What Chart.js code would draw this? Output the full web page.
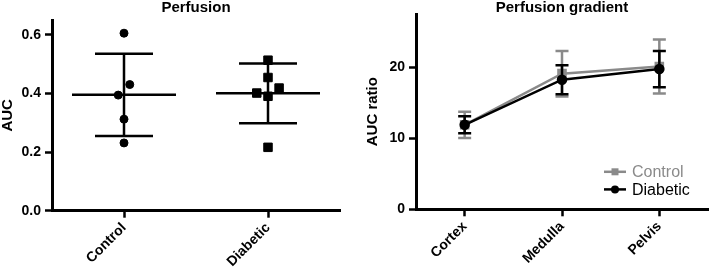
<!DOCTYPE html>
<html>
<head>
<meta charset="utf-8">
<script src="https://cdn.jsdelivr.net/npm/chart.js@4.4.1/dist/chart.umd.min.js"></script>
<style>
	body { margin: 0; background: #fff; }
	#wrap { position: relative; width: 709px; height: 269px; }
	canvas { position: absolute; top: 0; }
	#left { left: 0; }
	#right { left: 345px; }
</style>
</head>
<body>
<div id="wrap">
	<canvas id="left" width="345" height="269"></canvas>
	<canvas id="right" width="364" height="269"></canvas>
</div>
<script>
// Perfusion (AUC) - individual animals
const groups = ['Control', 'Diabetic'];
const groupPos = [1, 2];
const controlAUC = [0.605, 0.430, 0.394, 0.312, 0.231];
const controlJitter = [0, 0.04, -0.04, 0, 0];
const diabeticAUC = [0.513, 0.454, 0.418, 0.401, 0.390, 0.216];
const diabeticJitter = [0, 0, 0.077, -0.078, 0, 0];
const groupMean = [0.395, 0.400];
const groupSD = [0.140, 0.102];
const aucTicks = [0, 0.2, 0.4, 0.6];

// Perfusion gradient (AUC ratio)
const regions = ['Cortex', 'Medulla', 'Pelvis'];
const controlRatio = [11.9, 19.1, 20.1];
const controlErr = [1.85, 3.2, 3.8];
const diabeticRatio = [11.9, 18.25, 19.75];
const diabeticErr = [1.2, 2.05, 2.55];
const ratioTicks = [0, 10, 20];

const GREY = '#8a8a8a';
const FONT = '"Liberation Sans", Arial, sans-serif';
Chart.defaults.font.family = FONT;
Chart.defaults.color = '#000';

const axisBase = {
	grid: { drawOnChartArea: false, drawTicks: true, tickLength: 7, tickWidth: 2.5, tickColor: '#000' },
	border: { display: true, width: 3, color: '#000' },
};

// pin the x axis height and drop the label overhang padding
const fixX = (h) => (scale) => {
	scale.height = h;
	scale.paddingLeft = 0;
	scale.paddingRight = 0;
};

// mean line + SD whiskers for the scatter panel
const meanSdPlugin = {
	id: 'meanSd',
	beforeDatasetsDraw(chart) {
		const { ctx, scales } = chart;
		ctx.save();
		ctx.strokeStyle = '#000';
		ctx.lineWidth = 2.5;
		groupPos.forEach((g, i) => {
			const x = scales.x.getPixelForValue(g);
			const ym = scales.y.getPixelForValue(groupMean[i]);
			const yt = scales.y.getPixelForValue(groupMean[i] + groupSD[i]);
			const yb = scales.y.getPixelForValue(groupMean[i] - groupSD[i]);
			ctx.beginPath();
			ctx.moveTo(x - 52, ym); ctx.lineTo(x + 52, ym);
			ctx.moveTo(x - 29, yt); ctx.lineTo(x + 29, yt);
			ctx.moveTo(x - 29, yb); ctx.lineTo(x + 29, yb);
			ctx.moveTo(x, yt); ctx.lineTo(x, yb);
			ctx.stroke();
		});
		ctx.restore();
	},
};

new Chart(document.getElementById('left'), {
	type: 'scatter',
	data: {
		datasets: [
			{
				label: 'Control',
				data: controlAUC.map((v, i) => ({ x: groupPos[0] + controlJitter[i], y: v })),
				pointStyle: 'circle',
				pointRadius: 4,
				backgroundColor: '#000',
				borderColor: '#000',
			},
			{
				label: 'Diabetic',
				data: diabeticAUC.map((v, i) => ({ x: groupPos[1] + diabeticJitter[i], y: v })),
				pointStyle: 'rect',
				pointRadius: 6,
				backgroundColor: '#000',
				borderColor: '#000',
			},
		],
	},
	options: {
		responsive: false,
		animation: false,
		layout: { autoPadding: false, padding: { left: 0, right: 5, top: 0, bottom: 0 } },
		plugins: {
			legend: { display: false },
			tooltip: { enabled: false },
			title: {
				display: true,
				fullSize: false,
				text: 'Perfusion',
				font: { size: 15, weight: 'bold', lineHeight: 1 },
				padding: { top: 0, bottom: 5 },
			},
		},
		scales: {
			x: {
				...axisBase,
				type: 'linear',
				min: 0.5,
				max: 2.5,
				afterBuildTicks: (scale) => { scale.ticks = groupPos.map((v) => ({ value: v })); },
				afterFit: fixX(58.3),
				ticks: {
					autoSkip: false,
					minRotation: 45,
					maxRotation: 45,
					padding: 2,
					font: { size: 14, weight: 'bold' },
					callback: (v) => groups[groupPos.indexOf(v)],
				},
			},
			y: {
				...axisBase,
				min: 0,
				max: 0.65,
				afterBuildTicks: (scale) => { scale.ticks = aucTicks.map((v) => ({ value: v })); },
				afterFit: (scale) => { scale.width = 52; },
				ticks: {
					padding: 4,
					font: { size: 14, weight: 'bold' },
					callback: (v) => v.toFixed(1),
				},
				title: {
					display: true,
					text: 'AUC',
					font: { size: 15, weight: 'bold', lineHeight: 1 },
					padding: { top: 0, bottom: 0 },
				},
			},
		},
	},
	plugins: [meanSdPlugin],
});

// SEM bars drawn right after each dataset so layering follows the datasets
const errorBarPlugin = {
	id: 'errorBars',
	afterDatasetDraw(chart, args) {
		const ds = chart.data.datasets[args.index];
		if (!ds.errors) return;
		const { ctx } = chart;
		const y = chart.scales.y;
		ctx.save();
		ctx.strokeStyle = ds.borderColor;
		ctx.lineWidth = 2.5;
		args.meta.data.forEach((pt, i) => {
			const top = y.getPixelForValue(ds.data[i] + ds.errors[i]);
			const bot = y.getPixelForValue(ds.data[i] - ds.errors[i]);
			ctx.beginPath();
			ctx.moveTo(pt.x, top); ctx.lineTo(pt.x, bot);
			ctx.moveTo(pt.x - 6.5, top); ctx.lineTo(pt.x + 6.5, top);
			ctx.moveTo(pt.x - 6.5, bot); ctx.lineTo(pt.x + 6.5, bot);
			ctx.stroke();
		});
		ctx.restore();
	},
};

// legend sits inside the plot, bottom right
const innerLegendPlugin = {
	id: 'innerLegend',
	afterDraw(chart) {
		const { ctx, chartArea } = chart;
		ctx.save();
		chart.data.datasets.forEach((ds, i) => {
			const y = chartArea.bottom - 37.5 + i * 17.6;
			const x0 = chartArea.right - 104;
			ctx.strokeStyle = ds.borderColor;
			ctx.lineWidth = 2.5;
			ctx.beginPath();
			ctx.moveTo(x0, y); ctx.lineTo(x0 + 22, y);
			ctx.stroke();
			ctx.fillStyle = ds.borderColor;
			ctx.beginPath();
			if (ds.pointStyle === 'rect') ctx.rect(x0 + 7.5, y - 3.5, 7, 7);
			else ctx.arc(x0 + 11, y, 4, 0, Math.PI * 2);
			ctx.fill();
			ctx.font = '16px ' + FONT;
			ctx.textBaseline = 'middle';
			ctx.fillText(ds.label, x0 + 28, y + 1);
		});
		ctx.restore();
	},
};

new Chart(document.getElementById('right'), {
	type: 'line',
	data: {
		labels: regions,
		datasets: [
			{
				label: 'Control',
				data: controlRatio,
				errors: controlErr,
				order: 1,
				borderColor: GREY,
				backgroundColor: GREY,
				borderWidth: 2.5,
				pointStyle: 'rect',
				pointRadius: 5,
			},
			{
				label: 'Diabetic',
				data: diabeticRatio,
				errors: diabeticErr,
				order: 0,
				borderColor: '#000',
				backgroundColor: '#000',
				borderWidth: 2.5,
				pointStyle: 'circle',
				pointRadius: 4,
			},
		],
	},
	options: {
		responsive: false,
		animation: false,
		layout: { autoPadding: false, padding: { left: 0, right: 1, top: 0, bottom: 0 } },
		plugins: {
			legend: { display: false },
			tooltip: { enabled: false },
			title: {
				display: true,
				fullSize: false,
				text: 'Perfusion gradient',
				font: { size: 15, weight: 'bold', lineHeight: 1 },
				padding: { top: 0, bottom: -1 },
			},
		},
		scales: {
			x: {
				...axisBase,
				offset: true,
				afterFit: fixX(59.7),
				ticks: {
					autoSkip: false,
					minRotation: 45,
					maxRotation: 45,
					padding: 2,
					font: { size: 14, weight: 'bold' },
				},
			},
			y: {
				...axisBase,
				min: 0,
				max: 27.5,
				afterBuildTicks: (scale) => { scale.ticks = ratioTicks.map((v) => ({ value: v })); },
				afterFit: (scale) => { scale.width = 71; },
				ticks: {
					padding: 4,
					font: { size: 14, weight: 'bold' },
				},
				title: {
					display: true,
					text: 'AUC ratio',
					font: { size: 15, weight: 'bold', lineHeight: 1 },
					padding: { top: 20.5, bottom: 0 },
				},
			},
		},
	},
	plugins: [errorBarPlugin, innerLegendPlugin],
});
</script>
</body>
</html>
